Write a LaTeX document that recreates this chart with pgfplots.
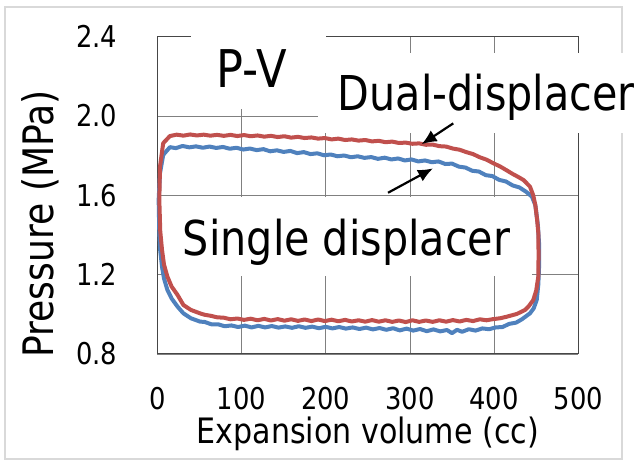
\documentclass[border=0pt]{standalone}
\usepackage{fontspec}
\setmainfont{DejaVu Sans}[FakeStretch=0.86]
\usepackage{pgfplots}
\pgfplotsset{compat=1.18}
\usetikzlibrary{arrows.meta}

\definecolor{dualred}{RGB}{192,80,77}
\definecolor{singleblue}{RGB}{79,129,189}
\definecolor{gridgray}{RGB}{128,128,128}
\definecolor{axisgray}{RGB}{70,70,70}
\definecolor{framegray}{RGB}{217,217,217}

\begin{document}
\begin{tikzpicture}
\path (0,0) rectangle (644bp,462bp);
\draw[line width=2.5bp, framegray] (5bp,3bp) rectangle (622bp,455bp);
\begin{axis}[
    set layers, clip=false,
    at={(157.3bp,108bp)}, anchor=south west,
    scale only axis, width=421bp, height=317.3bp,
    xmin=0, xmax=500, ymin=0.8, ymax=2.4,
    xtick={0,100,200,300,400,500},
    ytick={0.8,1.2,1.6,2.0,2.4},
    xticklabels={0,100,200,300,400,500},
    yticklabels={0.8,1.2,1.6,2.0,2.4},
    major tick length=0pt,
    grid=major,
    grid style={line width=0.8bp, gridgray},
    axis line style={line width=1bp, axisgray},
    tick label style={font=\fontsize{30bp}{36bp}\selectfont, inner sep=0pt},
    xticklabel style={anchor=north, yshift=-33bp},
    yticklabel style={anchor=east, xshift=-40bp},
    xlabel={Expansion volume (cc)},
    ylabel={Pressure (MPa)},
    xlabel style={font=\fontsize{35bp}{42bp}\selectfont, inner sep=0pt,
        at={(axis description cs:0.5,-0.2805)}, anchor=base},
    ylabel style={font=\fontsize{42bp}{48bp}\selectfont, inner sep=0pt,
        at={(axis description cs:-0.2477,0.41)}, anchor=base},
]
% white boxes behind the labels
\fill[white] (axis cs:40,2.035) rectangle (axis cs:200.4,2.45);
\fill[white] (axis cs:191.2,1.914) rectangle (axis cs:573,2.318);
\fill[white] (axis cs:12.7,1.193) rectangle (axis cs:445.4,1.592);
\node[font=\fontsize{52bp}{60bp}\selectfont, anchor=base, inner sep=0pt]
    at (axis cs:111.9,2.146) {P-V};
\node[font=\fontsize{48bp}{56bp}\selectfont, anchor=base, inner sep=0pt]
    at (axis cs:390.6,2.03) {Dual-displacer};
\node[font=\fontsize{48bp}{56bp}\selectfont, anchor=base, inner sep=0pt]
    at (axis cs:224.8,1.299) {Single displacer};

% single displacer
\addplot[singleblue, line width=4bp, line join=round] coordinates {
(1.6,1.577)(3.2,1.711)(7,1.804)
(15,1.843)(22,1.838)(30,1.849)(38,1.842)(46,1.847)(54,1.840)(62,1.846)
(70,1.839)(78,1.844)(86,1.835)(94,1.840)(102,1.831)(110,1.836)(118,1.828)
(126,1.833)(134,1.822)(142,1.827)(150,1.819)(158,1.824)(166,1.813)
(174,1.818)(182,1.808)(190,1.812)(198,1.802)(206,1.806)(214,1.797)
(222,1.801)(230,1.792)(238,1.797)(246,1.789)(254,1.793)(262,1.784)
(270,1.790)(278,1.781)(286,1.786)(294,1.776)(302,1.781)(310,1.771)
(318,1.776)(326,1.767)(334,1.771)(342,1.758)(350,1.760)(358,1.745)
(366,1.740)(374,1.724)(382,1.720)(390,1.702)(398,1.697)(406,1.678)
(414,1.670)(422,1.650)(430,1.640)(438,1.618)(445,1.593)
(449,1.55)(452,1.45)(453.5,1.35)(453.5,1.25)(452.5,1.15)(450.6,1.072)
(447,1.03)(442.6,1.005)
(433,0.975)(426,0.958)(418,0.952)(410,0.936)(402,0.934)(394,0.925)
(386,0.929)(378,0.918)(370,0.925)(362,0.912)(356,0.922)(350,0.905)
(344,0.921)(336,0.914)(328,0.924)(320,0.915)(312,0.926)(304,0.918)
(296,0.928)(288,0.919)(280,0.930)(272,0.922)(264,0.931)(256,0.924)
(248,0.933)(240,0.926)(232,0.934)(224,0.928)(216,0.936)(208,0.929)
(200,0.937)(192,0.930)(184,0.938)(176,0.932)(168,0.940)(160,0.932)
(152,0.939)(144,0.933)(136,0.941)(128,0.934)(120,0.942)(112,0.934)
(104,0.943)(96,0.936)(88,0.944)(80,0.940)(72,0.950)(64,0.950)(56,0.962)
(51,0.963)(40,0.98)(31,1.005)(24,1.039)(17,1.08)(12,1.123)(8,1.18)
(5.6,1.24)(3.5,1.32)(2.4,1.409)(1.6,1.577)
};

% dual displacer
\addplot[dualred, line width=4bp, line join=round] coordinates {
(2.4,1.577)(3.2,1.745)(7,1.863)
(15,1.899)(23,1.906)(31,1.901)(39,1.907)(47,1.902)(55,1.906)(63,1.901)
(71,1.905)(79,1.900)(87,1.905)(95,1.899)(103,1.904)(111,1.898)(119,1.902)
(127,1.896)(135,1.900)(143,1.894)(151,1.898)(159,1.891)(167,1.895)
(175,1.889)(183,1.892)(191,1.886)(199,1.889)(207,1.882)(215,1.886)
(223,1.879)(231,1.882)(239,1.876)(247,1.879)(255,1.872)(263,1.875)
(271,1.868)(279,1.871)(287,1.864)(295,1.866)(303,1.860)(311,1.862)
(319,1.855)(327,1.856)(335,1.848)(343,1.846)(351,1.836)(359,1.830)
(367,1.818)(375,1.808)(383,1.792)(391,1.780)(399,1.762)(407,1.746)
(415,1.726)(422,1.708)(429,1.692)(435,1.677)(442.6,1.644)
(446.5,1.60)(449,1.55)(451,1.48)(452.5,1.41)(452.8,1.30)(452.5,1.19)
(450,1.12)(446.5,1.072)(441,1.04)(436.7,1.022)(427,1.002)
(415,0.988)(407,0.980)(399,0.976)(391,0.970)(383,0.975)(375,0.966)
(367,0.972)(359,0.964)(351,0.971)(343,0.963)(335,0.970)(327,0.962)
(319,0.969)(311,0.962)(303,0.970)(295,0.961)(287,0.969)(279,0.962)
(271,0.970)(263,0.963)(255,0.971)(247,0.963)(239,0.970)(231,0.964)
(223,0.972)(215,0.965)(207,0.973)(199,0.966)(191,0.974)(183,0.966)
(175,0.974)(167,0.967)(159,0.975)(151,0.968)(143,0.976)(135,0.969)
(127,0.977)(119,0.970)(111,0.978)(103,0.972)(95,0.979)(87,0.975)
(79,0.983)(71,0.985)(63,0.993)(56,0.998)(50.7,1.005)
(40,1.022)(31,1.047)(24,1.098)(17,1.14)(12,1.19)
(8,1.25)(5.6,1.325)(3.5,1.42)(2.4,1.577)
};

% arrows
\draw[-{Latex[length=15bp,width=13bp]}, line width=2.2bp]
    (axis cs:351.5,1.963) -- (axis cs:314,1.858);
\draw[-{Latex[length=15bp,width=13bp]}, line width=2.2bp]
    (axis cs:274,1.613) -- (axis cs:327.4,1.736);
\end{axis}
\end{tikzpicture}
\end{document}
